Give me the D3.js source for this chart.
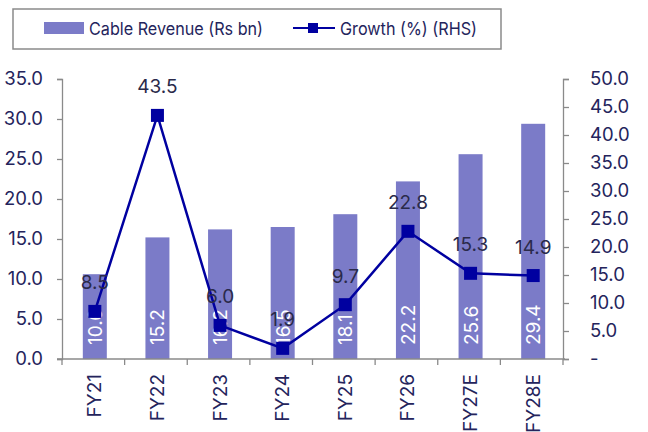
<!DOCTYPE html>
<html><head><meta charset="utf-8">
<script src="https://cdn.jsdelivr.net/npm/d3@7"></script>
<style>body{margin:0;background:#fff}svg{display:block;font-family:Inter,"Noto Sans",sans-serif}</style>
</head><body>
<script>
const categories = ["FY21","FY22","FY23","FY24","FY25","FY26","FY27E","FY28E"];
const revenue = [10.6,15.2,16.2,16.5,18.1,22.2,25.6,29.4];
const growth = [8.5,43.5,6.0,1.9,9.7,22.8,15.3,14.9];
const leftTicks = [0,5,10,15,20,25,30,35];
const rightTicks = [0,5,10,15,20,25,30,35,40,45,50];
const seriesNames = ["Cable Revenue (Rs bn)","Growth (%) (RHS)"];

const W=648,H=432, L=62, R=563, T=79, B=359;
const textCol="#24245c", axisCol="#8a8a8a", barCol="#7b7bc8", lineCol="#0000a0";
const svg=d3.select("body").append("svg").attr("width",W).attr("height",H);

const x=d3.scaleBand().domain(categories).range([L,R]);
const yL=d3.scaleLinear().domain([0,35]).range([B,T]);
const yR=d3.scaleLinear().domain([0,50]).range([B,T]);

// bars
const bw=24;
svg.selectAll("rect.bar").data(revenue).join("rect")
  .attr("x",(d,i)=>x(categories[i])+x.bandwidth()/2-bw/2+1.5)
  .attr("width",bw).attr("y",d=>yL(d)).attr("height",d=>B-yL(d)).attr("fill",barCol);

// axes
const gL=svg.append("g").attr("transform",`translate(${L},0)`)
  .call(d3.axisLeft(yL).tickValues(leftTicks).tickSize(5).tickPadding(14).tickFormat(d3.format(".1f")));
const gR=svg.append("g").attr("transform",`translate(${R},0)`)
  .call(d3.axisRight(yR).tickValues(rightTicks).tickSize(6).tickPadding(21).tickFormat(d=>d===0?"-":d3.format(".1f")(d)));
const gX=svg.append("g").attr("transform",`translate(0,${B})`)
  .call(d3.axisBottom(x).tickSize(0).tickFormat(""));
[gL,gR,gX].forEach(g=>{g.selectAll("path,line").attr("stroke",axisCol).attr("stroke-width",1.3);
  g.selectAll("text").attr("fill",textCol).attr("font-size",18.5).attr("font-family","Inter,'Noto Sans',sans-serif");});
gX.select("path").attr("d",`M${L-5},0H${R+2}`);
// category boundary ticks
const bounds=categories.map(c=>x(c)).concat([R]);
svg.selectAll("line.xt").data(bounds).join("line")
  .attr("x1",d=>d).attr("x2",d=>d).attr("y1",B).attr("y2",B+6)
  .attr("stroke",axisCol).attr("stroke-width",1.3);
// x labels rotated
svg.selectAll("text.xl").data(categories).join("text")
  .attr("transform",(d)=>`translate(${x(d)+x.bandwidth()/2+8},${B+15}) rotate(-90)`)
  .attr("text-anchor","end").attr("font-size",19).attr("fill",textCol).text(d=>d);

// bar labels
svg.selectAll("text.bl").data(revenue).join("text")
  .attr("transform",(d,i)=>`translate(${x(categories[i])+x.bandwidth()/2+8.5},${B-14}) rotate(-90)`)
  .attr("text-anchor","start").attr("font-size",19).attr("fill","#ffffff").text(d=>d3.format(".1f")(d));

// line
const cx=i=>x(categories[i])+x.bandwidth()/2+1.5;
svg.append("path").datum(growth)
  .attr("d",d3.line().x((d,i)=>cx(i)).y(d=>yR(d)))
  .attr("fill","none").attr("stroke",lineCol).attr("stroke-width",2.5);
svg.selectAll("rect.mk").data(growth).join("rect")
  .attr("x",(d,i)=>cx(i)-6.5).attr("y",d=>yR(d)-6.5).attr("width",13).attr("height",13).attr("fill",lineCol);
svg.selectAll("text.gl").data(growth).join("text")
  .attr("x",(d,i)=>cx(i)).attr("y",d=>yR(d)-22)
  .attr("text-anchor","middle").attr("font-size",19).attr("fill","#2a2a4a").text(d=>d3.format(".1f")(d));

// legend
const lg=svg.append("g");
lg.append("rect").attr("x",13).attr("y",9).attr("width",488).attr("height",40)
  .attr("fill","#fff").attr("stroke","#8a8a8a").attr("stroke-width",1.5);
lg.append("rect").attr("x",44).attr("y",22).attr("width",40).attr("height",12).attr("fill",barCol);
lg.append("text").attr("x",89).attr("y",35).attr("font-size",17.5).attr("fill",textCol)
  .attr("textLength",174).attr("lengthAdjust","spacingAndGlyphs").text(seriesNames[0]);
lg.append("line").attr("x1",293).attr("x2",335).attr("y1",28).attr("y2",28).attr("stroke",lineCol).attr("stroke-width",2.2);
lg.append("rect").attr("x",308).attr("y",23).attr("width",10).attr("height",10).attr("fill",lineCol);
lg.append("text").attr("x",340).attr("y",35).attr("font-size",17.5).attr("fill",textCol)
  .attr("textLength",137).attr("lengthAdjust","spacingAndGlyphs").text(seriesNames[1]);
</script>
</body></html>
